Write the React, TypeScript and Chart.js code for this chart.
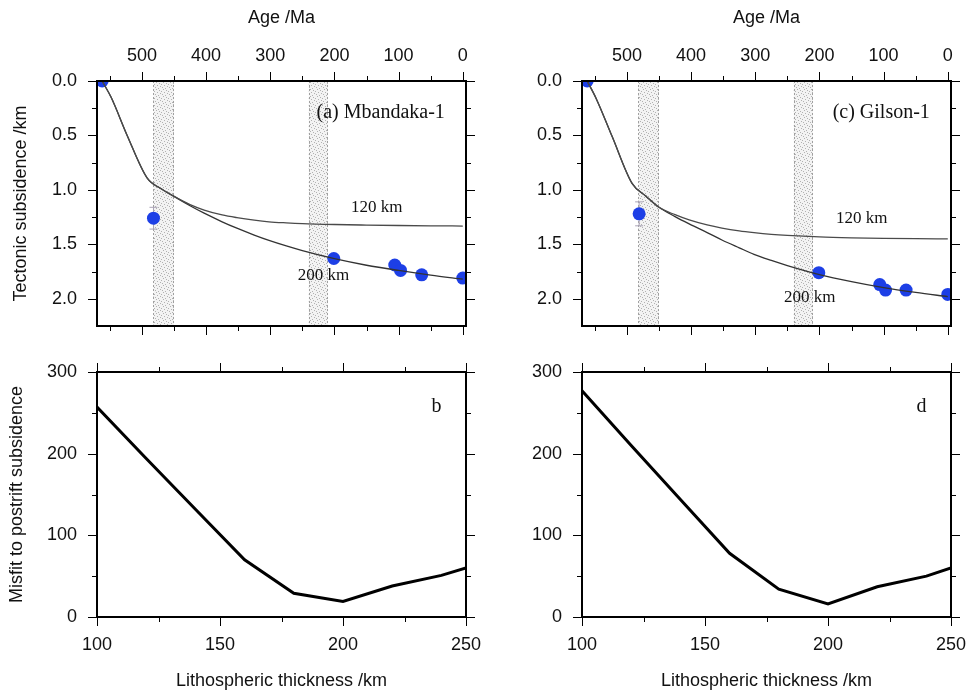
import React, { useEffect, useRef } from "react";
import { Chart, registerables } from "chart.js";

Chart.register(...registerables);

const SANS = "'Liberation Sans', Arial, Helvetica, sans-serif";
const SERIF = "'Liberation Serif', 'Times New Roman', serif";

// ---- tick values ----
const AGE_TICKS = [0, 100, 200, 300, 400, 500];
const AGE_MINOR = [50, 150, 250, 350, 450, 550];
const SUBS_TICKS = [0, 0.5, 1.0, 1.5, 2.0];
const SUBS_MINOR = [0.25, 0.75, 1.25, 1.75];
const THICK_TICKS = [100, 150, 200, 250];
const THICK_MINOR = [125, 175, 225];
const MISFIT_TICKS = [0, 100, 200, 300];
const MISFIT_MINOR = [50, 150, 250];

// ---- shaded age bands (Ma) ----
const BAND_OLD = [482, 240];
const BAND_YOUNG = [450, 210];

// ---- model subsidence curves ----
const MODEL_AGE = [562, 548, 523, 492, 470, 450, 425, 403, 375, 352, 325, 302, 275, 250, 200, 150, 100, 50, 0];
const MB_120 = [0, 0.15, 0.5, 0.89, 0.99, 1.06, 1.135, 1.185, 1.23, 1.255, 1.278, 1.293, 1.303, 1.31, 1.318, 1.323, 1.327, 1.33, 1.332];
const MB_200 = [0, 0.15, 0.5, 0.89, 0.99, 1.06, 1.146, 1.214, 1.293, 1.352, 1.415, 1.464, 1.515, 1.558, 1.632, 1.692, 1.74, 1.783, 1.82];
const GI_120 = [0, 0.16, 0.51, 0.94, 1.06, 1.16, 1.228, 1.276, 1.322, 1.351, 1.377, 1.393, 1.408, 1.418, 1.432, 1.44, 1.445, 1.448, 1.45];
const GI_200 = [0, 0.16, 0.51, 0.94, 1.06, 1.16, 1.245, 1.312, 1.392, 1.46, 1.532, 1.592, 1.648, 1.695, 1.778, 1.843, 1.898, 1.942, 1.98];

// ---- observed tectonic subsidence ----
const MB_OBS_AGE = [562, 482, 201, 106, 97, 64, 0];
const MB_OBS_SUBS = [0.0, 1.26, 1.63, 1.69, 1.74, 1.78, 1.81];
const MB_OBS_ERR = [0, 0.1, 0, 0, 0, 0, 0];
const GI_OBS_AGE = [562, 481, 201, 106, 97, 65, 0];
const GI_OBS_SUBS = [0.0, 1.22, 1.76, 1.87, 1.92, 1.92, 1.96];
const GI_OBS_ERR = [0, 0.11, 0, 0, 0, 0, 0];

// ---- misfit vs lithospheric thickness ----
const THICKNESS = [100, 120, 140, 160, 180, 200, 220, 240, 250];
const MISFIT_MB = [257, 194, 132, 70, 29, 19, 38, 51, 60];
const MISFIT_GI = [277, 210, 144, 78, 34, 16, 37, 50, 60];

const zip = (xs: number[], ys: number[]) => xs.map((x, i) => ({ x, y: ys[i] }));

let stippleCache: HTMLCanvasElement | null = null;
function stipple(ctx: CanvasRenderingContext2D) {
  if (!stippleCache) {
    const c = document.createElement("canvas");
    c.width = 7;
    c.height = 7;
    const g = c.getContext("2d")!;
    g.fillStyle = "#f3f3f3";
    g.fillRect(0, 0, 7, 7);
    g.fillStyle = "#b2b2b2";
    const dots = [[0, 0], [3, 1], [6, 2], [1, 3], [4, 4], [2, 5], [5, 6]];
    dots.forEach(([i, j]) => g.fillRect(i, j, 1, 1));
    stippleCache = c;
  }
  return ctx.createPattern(stippleCache, "repeat")!;
}

type Note = { text: string; x: number; y: number; align: CanvasTextAlign; size: number };
type DecorCfg = {
  xMajor: number[];
  xMinor: number[];
  yMajor: number[];
  yMinor: number[];
  bands?: boolean;
  err?: { xs: number[]; ys: number[]; es: number[] };
  notes: Note[];
};

function makeDecor(cfg: DecorCfg) {
  return {
    id: "decor",
    beforeDatasetsDraw(chart: any) {
      const { ctx, chartArea: a, scales } = chart;
      const x = scales.x;
      const y = scales.y;
      ctx.save();
      if (cfg.bands) {
        const pat = stipple(ctx);
        BAND_OLD.forEach((old, i) => {
          const x1 = x.getPixelForValue(old);
          const x2 = x.getPixelForValue(BAND_YOUNG[i]);
          ctx.fillStyle = pat;
          ctx.fillRect(x1, a.top, x2 - x1, a.bottom - a.top);
          ctx.strokeStyle = "#a0a0a0";
          ctx.lineWidth = 1;
          ctx.setLineDash([2, 2]);
          ctx.beginPath();
          ctx.moveTo(Math.round(x1) + 0.5, a.top);
          ctx.lineTo(Math.round(x1) + 0.5, a.bottom);
          ctx.moveTo(Math.round(x2) - 0.5, a.top);
          ctx.lineTo(Math.round(x2) - 0.5, a.bottom);
          ctx.stroke();
          ctx.setLineDash([]);
        });
      }
      if (cfg.err) {
        const { xs, ys, es } = cfg.err;
        ctx.strokeStyle = "#aaa3b6";
        ctx.lineWidth = 1;
        xs.forEach((xv, i) => {
          if (!es[i]) return;
          const px = x.getPixelForValue(xv);
          const p1 = y.getPixelForValue(ys[i] - es[i]);
          const p2 = y.getPixelForValue(ys[i] + es[i]);
          ctx.beginPath();
          ctx.moveTo(px, p1);
          ctx.lineTo(px, p2);
          ctx.moveTo(px - 4, p1);
          ctx.lineTo(px + 4, p1);
          ctx.moveTo(px - 4, p2);
          ctx.lineTo(px + 4, p2);
          ctx.stroke();
        });
      }
      ctx.restore();
    },
    afterDatasetsDraw(chart: any) {
      const { ctx, chartArea: a, scales } = chart;
      const x = scales.x;
      const y = scales.y;
      ctx.save();
      ctx.fillStyle = "#111";
      ctx.textBaseline = "middle";
      cfg.notes.forEach((n) => {
        ctx.font = `${n.size}px ${SERIF}`;
        ctx.textAlign = n.align;
        ctx.fillText(n.text, x.getPixelForValue(n.x), y.getPixelForValue(n.y));
      });
      ctx.strokeStyle = "#000";
      ctx.lineWidth = 1;
      ctx.beginPath();
      const xt = (vals: number[], len: number) =>
        vals.forEach((v) => {
          const p = Math.round(x.getPixelForValue(v)) + 0.5;
          ctx.moveTo(p, a.top);
          ctx.lineTo(p, a.top - len);
          ctx.moveTo(p, a.bottom);
          ctx.lineTo(p, a.bottom + len);
        });
      const yt = (vals: number[], len: number) =>
        vals.forEach((v) => {
          const p = Math.round(y.getPixelForValue(v)) + 0.5;
          ctx.moveTo(a.left, p);
          ctx.lineTo(a.left - len, p);
          ctx.moveTo(a.right, p);
          ctx.lineTo(a.right + len, p);
        });
      xt(cfg.xMajor, 9);
      xt(cfg.xMinor, 5);
      yt(cfg.yMajor, 9);
      yt(cfg.yMinor, 5);
      ctx.stroke();
      ctx.lineWidth = 2;
      ctx.strokeRect(a.left, a.top, a.right - a.left, a.bottom - a.top);
      ctx.restore();
    },
  };
}

const tickFont = { family: SANS, size: 18 };
const titleFont = { family: SANS, size: 18 };

function xAxis(opts: any) {
  return {
    type: "linear",
    position: opts.position,
    min: opts.min,
    max: opts.max,
    reverse: !!opts.reverse,
    afterBuildTicks: (s: any) => {
      s.ticks = opts.ticks.map((v: number) => ({ value: v }));
    },
    afterFit: (s: any) => {
      s.height = opts.height;
      s.paddingLeft = 0;
      s.paddingRight = 0;
    },
    ticks: {
      font: tickFont,
      color: "#111",
      padding: opts.tickPad,
      autoSkip: false,
      maxRotation: 0,
      minRotation: 0,
      callback: (v: any) => String(v),
    },
    grid: { drawOnChartArea: false, color: "rgba(0,0,0,0)", tickLength: 8 },
    border: { display: false },
    title: {
      display: true,
      text: opts.title,
      font: titleFont,
      color: "#111",
      padding: opts.titlePad,
    },
  };
}

function yAxis(opts: any) {
  return {
    type: "linear",
    position: "left",
    min: opts.min,
    max: opts.max,
    reverse: !!opts.reverse,
    afterBuildTicks: (s: any) => {
      s.ticks = opts.ticks.map((v: number) => ({ value: v }));
    },
    afterFit: (s: any) => {
      s.width = opts.width;
      s.paddingTop = 0;
      s.paddingBottom = 0;
    },
    ticks: {
      font: tickFont,
      color: "#111",
      padding: 12,
      autoSkip: false,
      callback: opts.fmt,
    },
    grid: { drawOnChartArea: false, color: "rgba(0,0,0,0)", tickLength: 8 },
    border: { display: false },
    title: {
      display: !!opts.title,
      text: opts.title || "",
      font: titleFont,
      color: "#111",
      padding: { top: opts.titlePad || 0, bottom: 0 },
    },
  };
}

function subsidenceConfig(p: any) {
  return {
    type: "scatter",
    data: {
      datasets: [
        {
          data: zip(MODEL_AGE, p.m120),
          showLine: true,
          borderColor: "#4a4a4a",
          borderWidth: 1.3,
          pointRadius: 0,
          cubicInterpolationMode: "monotone",
          clip: 0,
        },
        {
          data: zip(MODEL_AGE, p.m200),
          showLine: true,
          borderColor: "#333",
          borderWidth: 1.3,
          pointRadius: 0,
          cubicInterpolationMode: "monotone",
          clip: 0,
        },
        {
          data: zip(p.obsAge, p.obsSubs),
          showLine: false,
          pointRadius: 6.5,
          pointBackgroundColor: "#1d3fe6",
          pointBorderWidth: 0,
          clip: 0,
        },
      ],
    },
    options: {
      animation: false,
      responsive: false,
      events: [],
      layout: { padding: { left: 0, top: 0, right: p.padRight, bottom: 14 } },
      plugins: { legend: { display: false }, tooltip: { enabled: false } },
      scales: {
        x: xAxis({
          position: "top",
          min: -5,
          max: 570,
          reverse: true,
          ticks: AGE_TICKS,
          height: 81,
          tickPad: 6,
          title: "Age /Ma",
          titlePad: { top: 7, bottom: 0 },
        }),
        y: yAxis({
          min: 0,
          max: 2.25,
          reverse: true,
          ticks: SUBS_TICKS,
          width: p.yWidth,
          fmt: (v: any) => Number(v).toFixed(1),
          title: p.yTitle,
          titlePad: 10,
        }),
      },
    },
    plugins: [
      makeDecor({
        xMajor: AGE_TICKS,
        xMinor: AGE_MINOR,
        yMajor: SUBS_TICKS,
        yMinor: SUBS_MINOR,
        bands: true,
        err: { xs: p.obsAge, ys: p.obsSubs, es: p.obsErr },
        notes: p.notes,
      }),
    ],
  };
}

function misfitConfig(p: any) {
  return {
    type: "scatter",
    data: {
      datasets: [
        {
          data: zip(THICKNESS, p.misfit),
          showLine: true,
          borderColor: "#000",
          borderWidth: 3,
          pointRadius: 0,
          tension: 0,
          clip: 0,
        },
      ],
    },
    options: {
      animation: false,
      responsive: false,
      events: [],
      layout: { padding: { left: 0, top: 32, right: p.padRight, bottom: 0 } },
      plugins: { legend: { display: false }, tooltip: { enabled: false } },
      scales: {
        x: xAxis({
          position: "bottom",
          min: 100,
          max: 250,
          ticks: THICK_TICKS,
          height: 75,
          tickPad: 9,
          title: "Lithospheric thickness /km",
          titlePad: { top: 0, bottom: 0 },
        }),
        y: yAxis({
          min: 0,
          max: 300,
          ticks: MISFIT_TICKS,
          width: p.yWidth,
          fmt: (v: any) => String(v),
          title: p.yTitle,
          titlePad: 6,
        }),
      },
    },
    plugins: [
      makeDecor({
        xMajor: THICK_TICKS,
        xMinor: THICK_MINOR,
        yMajor: MISFIT_TICKS,
        yMinor: MISFIT_MINOR,
        notes: p.notes,
      }),
    ],
  };
}

function Panel(props: { left: number; top: number; width: number; height: number; make: () => any }) {
  const ref = useRef<HTMLCanvasElement>(null);
  useEffect(() => {
    const chart = new Chart(ref.current as HTMLCanvasElement, props.make());
    return () => chart.destroy();
  }, []);
  return (
    <canvas
      ref={ref}
      width={props.width}
      height={props.height}
      style={{ position: "absolute", left: props.left, top: props.top, width: props.width, height: props.height }}
    />
  );
}

export default function App() {
  return (
    <div style={{ position: "absolute", left: 0, top: 0, width: 967, height: 692, background: "#fff", overflow: "hidden" }}>
      <Panel
        left={0}
        top={0}
        width={492}
        height={340}
        make={() =>
          subsidenceConfig({
            m120: MB_120,
            m200: MB_200,
            obsAge: MB_OBS_AGE,
            obsSubs: MB_OBS_SUBS,
            obsErr: MB_OBS_ERR,
            yWidth: 97,
            padRight: 26,
            yTitle: "Tectonic subsidence /km",
            notes: [
              { text: "(a) Mbandaka-1", x: 28, y: 0.29, align: "right", size: 20 },
              { text: "120 km", x: 134, y: 1.16, align: "center", size: 17 },
              { text: "200 km", x: 217, y: 1.79, align: "center", size: 17 },
            ],
          })
        }
      />
      <Panel
        left={0}
        top={340}
        width={492}
        height={352}
        make={() =>
          misfitConfig({
            misfit: MISFIT_MB,
            yWidth: 97,
            padRight: 26,
            yTitle: "Misfit to postrift subsidence",
            notes: [{ text: "b", x: 238, y: 258, align: "center", size: 20 }],
          })
        }
      />
      <Panel
        left={480}
        top={0}
        width={487}
        height={340}
        make={() =>
          subsidenceConfig({
            m120: GI_120,
            m200: GI_200,
            obsAge: GI_OBS_AGE,
            obsSubs: GI_OBS_SUBS,
            obsErr: GI_OBS_ERR,
            yWidth: 102,
            padRight: 16,
            yTitle: "",
            notes: [
              { text: "(c) Gilson-1", x: 28, y: 0.29, align: "right", size: 20 },
              { text: "120 km", x: 134, y: 1.26, align: "center", size: 17 },
              { text: "200 km", x: 215, y: 1.99, align: "center", size: 17 },
            ],
          })
        }
      />
      <Panel
        left={480}
        top={340}
        width={487}
        height={352}
        make={() =>
          misfitConfig({
            misfit: MISFIT_GI,
            yWidth: 102,
            padRight: 16,
            yTitle: "",
            notes: [{ text: "d", x: 238, y: 258, align: "center", size: 20 }],
          })
        }
      />
    </div>
  );
}
